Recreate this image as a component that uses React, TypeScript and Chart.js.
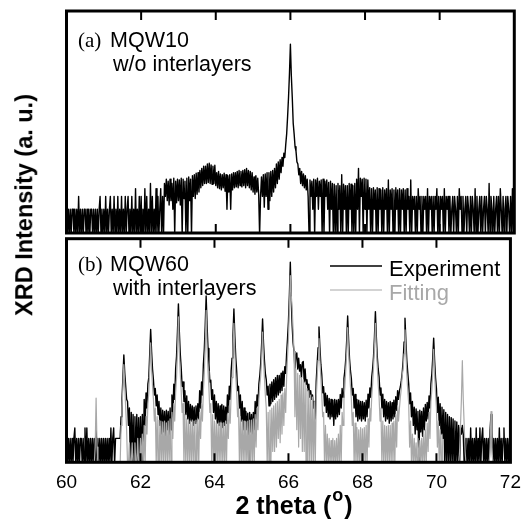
import React, { useEffect, useRef } from 'react';
import { Chart, registerables } from 'chart.js';
Chart.register(...registerables);

// Scan: 2-theta from 60 to 72 degrees, 0.025 degree step
const START = 60;
const STEP = 0.025;
const X_MIN = 60;
const X_MAX = 72;
const X_TICK_STEP = 2;
const INNER_TICKS = [62, 64, 66, 68, 70];

// log10 intensity values (0 = one count); each line holds 10 steps (0.25 degree)
// (a) MQW10 w/o interlayers
const expA = [
  0, -0.6, 0, -0.6, 0, -0.6, 0, 0, -0.6, 0,
  -0.6, 0, -0.6, 0.3, -0.6, 0, -0.6, 0, -0.6, 0,
  0, -0.6, 0, -0.6, 0, -0.6, 0, 0, -0.6, 0,
  -0.6, 0, -0.6, 0, -0.6, 0, 0.3, -0.6, 0, -0.6,
  0, -0.6, 0.3, -0.6, 0, -0.6, 0, 0.3, -0.6, 0,
  -0.6, 0.3, -0.6, 0, -0.6, 0.3, -0.6, 0, -0.6, 0.3,
  -0.6, 0, -0.6, 0.3, -0.6, 0, 0.3, -0.6, 0, -0.6,
  0.3, -0.6, 0, -0.6, 0.48, -0.6, 0, -0.6, 0.3, -0.6,
  0.3, -0.6, 0, -0.6, 0.48, -0.6, 0.3, -0.6, 0, -0.6,
  0.6, -0.6, 0.3, -0.6, 0, -0.6, 0.48, -0.6, 0.3, -0.6,
  0, 0.48, -0.6, 0.3, -0.6, 0.6, 0.3, 0.7, 0.2, 0.65,
  0.1, 0.7, 0.2, 0.6, 0.0, 0.72, -0.6, 0.65, 0.15, 0.7,
  0.2, 0.68, 0.1, 0.72, -0.6, 0.7, 0.25, 0.65, -0.6, 0.72,
  -0.6, 0.75, 0.2, 0.7, -0.6, 0.78, 0.3, 0.8, 0.25, 0.84,
  0.35, 0.85, 0.4, 0.9, 0.5, 0.95, 0.55, 1.0, 0.6, 1.0,
  0.6, 1.05, 0.62, 1.07, 0.6, 1.03, 0.58, 1.0, 0.6, 1.02,
  0.55, 0.85, 0.5, 0.88, 0.48, 0.82, 0.45, 0.8, 0.5, 0.84,
  0.42, 0.8, 0.0, 0.78, 0.4, 0.8, 0.0, 0.82, 0.45, 0.85,
  0.5, 0.85, 0.52, 0.88, 0.5, 0.9, 0.55, 0.88, 0.52, 0.9,
  0.55, 0.92, 0.5, 0.95, 0.55, 0.9, 0.5, 0.88, 0.45, 0.85,
  0.4, 0.75, 0.35, 0.78, 0.4, 0.72, 0.35, -0.6, 0.3, 0.75,
  0.3, 0.8, 0.05, 0.82, 0.3, 0.85, 0.0, 0.85, 0.2, 0.88,
  0.3, 0.9, 0.4, 0.95, 0.5, 1.05, 0.6, 1.1, 0.7, 1.15,
  0.85, 1.2, 1.0, 1.3, 1.2, 1.5, 1.75, 2.15, 2.6, 3.15,
  3.83, 3.1, 2.6, 2.0, 1.75, 1.45, 1.35, 1.1, 1.05, 0.8,
  0.95, 0.6, 0.88, 0.55, 0.82, 0.5, 0.78, 0.45, 0.7, 0.3,
  -0.6, 0.68, 0.3, 0.65, 0.0, 0.7, -0.6, 0.68, 0.3, 0.72,
  0.0, 0.65, 0.3, 0.68, -0.6, 0.7, -0.6, 0.65, 0.3, 0.68,
  0.0, 0.62, -0.6, 0.65, 0.0, 0.6, -0.6, 0.58, -0.6, 0.55,
  -0.6, 0.6, 0.0, 0.55, -0.6, 0.8, -0.6, 0.58, 0.0, 0.55,
  -0.6, 0.55, -0.6, 0.6, 0.0, 0.58, -0.6, 0.55, -0.6, 0.6,
  -0.6, 0.7, 0.0, 0.95, -0.6, 0.72, 0.3, 0.7, -0.6, 0.72,
  0.0, 0.7, -0.6, 0.68, 0.0, 0.5, -0.6, 0.48, -0.6, 0.5,
  0.0, 0.45, -0.6, 0.5, -0.6, 0.48, 0.0, 0.45, -0.6, 0.5,
  -0.6, 0.45, 0.0, 0.48, -0.6, 0.68, -0.6, 0.45, 0.0, 0.48,
  -0.6, 0.45, -0.6, 0.5, 0.0, 0.45, -0.6, 0.48, -0.6, 0.45,
  0.0, 0.48, -0.6, 0.45, -0.6, 0.48, 0.0, 0.3, -0.6, 0.68,
  -0.6, 0.3, 0.0, 0.3, -0.6, 0.3, -0.6, 0.48, 0.0, 0.3,
  -0.6, 0.3, -0.6, 0.3, 0.0, 0.3, -0.6, 0.48, -0.6, 0.3,
  0.0, 0.3, -0.6, 0.3, -0.6, 0.3, 0.0, 0.48, -0.6, 0.3,
  -0.6, 0.3, 0.0, 0.3, -0.6, 0.48, -0.6, 0.3, 0.0, 0.3,
  -0.6, 0.3, -0.6, 0.0, 0.3, -0.6, 0.3, 0.0, -0.6, 0.3,
  -0.6, 0.48, 0.0, 0.3, -0.6, 0.3, -0.6, 0.0, 0.3, -0.6,
  0.3, 0.0, -0.6, 0.3, -0.6, 0.3, 0.0, -0.6, 0.48, -0.6,
  0.3, -0.6, 0.0, 0.3, -0.6, 0.3, -0.6, 0.0, 0.3, -0.6,
  0.3, 0.0, -0.6, 0.6, -0.6, 0.3, 0.0, -0.6, 0.3, -0.6,
  0.0, 0.3, -0.6, 0.3, -0.6, 0.48, 0.0, -0.6, 0.3, -0.6,
  0.0, 0.3, -0.6, 0.3, 0.0, -0.6, 0.3, -0.6, 0.48, -0.6,
  0,
];

// (b) MQW60 with interlayers: experiment
const expB = [
  0, -0.6, 0, -0.6, 0, -0.6, 0, -0.6, 0, 0.24,
  -0.6, 0, -0.6, 0, -0.6, 0, 0, -0.6, 0, -0.6,
  0.24, -0.6, 0.24, -0.6, 0, -0.6, 0, -0.6, 0, -0.6,
  0, -0.6, 0.3, -0.6, 0, -0.6, 0, -0.6, 0, -0.6,
  0, -0.6, 0, -0.6, 0, -0.6, 0, -0.6, 0.24, -0.6,
  0, 0.24, -0.6, 0, 0, 0, 0, 0, 0, 0.5,
  0.9, 1.4, 1.92, 1.5, 1.2, 0.9, 0.85, 0.3, 0.7, -0.6,
  0.6, -0.6, 0.55, -0.6, 0.5, -0.6, 0.55, -0.6, 0.48, -0.6,
  0.5, -0.6, 0.55, -0.6, 0.9, 0.3, 1.05, 0.7, 1.25, 1.4,
  1.95, 2.51, 2.0, 1.6, 1.35, 1.0, 1.15, 0.75, 1.0, 0.55,
  0.85, 0.3, 0.7, 0.1, 0.65, 0.15, 0.62, 0.05, 0.65, 0.2,
  0.62, -0.1, 0.7, 0.2, 1.0, 0.5, 1.25, 0.9, 1.6, 1.9,
  2.46, 3.1, 2.46, 1.95, 1.63, 1.2, 1.3, 0.85, 1.1, 0.55,
  0.98, 0.45, 0.85, 0.35, 0.78, 0.4, 0.75, 0.3, 0.72, 0.35,
  0.75, 0.4, 0.8, 0.45, 1.1, 0.7, 1.3, 1.0, 1.7, 2.05,
  2.6, 3.28, 2.6, 2.07, 1.72, 1.3, 1.34, 0.9, 1.12, 0.6,
  1.0, 0.45, 0.85, 0.35, 0.8, 0.3, 0.75, 0.35, 0.78, 0.25,
  0.75, 0.3, 0.72, 0.35, 1.0, 0.6, 1.2, 0.9, 1.55, 1.85,
  2.36, 2.98, 2.36, 1.87, 1.55, 1.1, 1.2, 0.7, 1.0, 0.4,
  0.85, 0.2, 0.7, 0.1, 0.62, 0.2, 0.58, -0.6, 0.6, 0.15,
  0.55, 0.1, 0.6, 0.2, 0.85, 0.45, 1.0, 0.75, 1.25, 1.45,
  1.73, 2.18, 2.75, 2.2, 1.8, 1.5, 1.35, 1.0, 1.2, 0.75,
  1.25, 0.8, 1.3, 0.85, 1.35, 0.9, 1.4, 0.95, 1.45, 1.0,
  1.45, 1.05, 1.5, 1.1, 1.55, 1.2, 1.65, 1.5, 1.95, 2.3,
  2.7, 3.3, 4.06, 3.2, 2.6, 2.2, 2.0, 1.6, 1.9, 1.97,
  1.6, 1.85, 1.55, 1.7, 1.4, 1.75, 1.77, 1.3, 1.6, 1.25,
  1.35, 1.1, 1.25, 0.95, 1.1, 0.9, 1.0, 0.7, 0.85, 0.45,
  1.31, 1.71, 2.09, 2.57, 2.09, 1.71, 1.47, 1.05, 1.19, 0.75,
  1.04, 0.6, 0.99, 0.5, 0.92, 0.45, 0.9, 0.5, 0.88, 0.3,
  0.9, 0.45, 0.88, 0.5, 0.9, 0.55, 1.01, 0.7, 1.15, 0.95,
  1.38, 1.56, 1.84, 2.27, 2.82, 2.27, 1.84, 1.56, 1.38, 1.0,
  1.15, 0.7, 1.01, 0.5, 0.9, 0.4, 0.88, 0.45, 0.85, 0.4,
  0.85, 0.45, 0.82, 0.4, 0.88, 0.5, 1.02, 0.7, 1.16, 0.95,
  1.41, 1.6, 1.89, 2.34, 2.92, 2.34, 1.89, 1.6, 1.41, 1.0,
  1.16, 0.7, 1.02, 0.5, 0.9, 0.4, 0.85, 0.45, 0.82, 0.35,
  0.85, 0.4, 0.82, 0.45, 0.88, 0.5, 0.96, 0.65, 1.1, 0.9,
  1.1, 1.19, 1.33, 1.51, 1.79, 2.22, 2.77, 2.22, 1.79, 1.51,
  1.25, 0.8, 1.05, 0.5, 0.85, 0.3, 0.72, 0.1, 0.68, 0.2,
  0.62, -0.6, 0.65, 0.15, 0.62, 0.05, 0.7, 0.2, 0.78, 0.4,
  0.83, 0.45, 0.98, 0.7, 1.25, 1.48, 1.85, 2.31, 1.8, 1.4,
  1.15, 0.6, 0.95, 0.3, 0.8, 0.1, 0.72, 0.0, 0.66, -0.6,
  0.6, -0.6, 0.55, -0.6, 0.5, -0.6, 0.48, -0.6, 0.45, -0.6,
  0.4, -0.6, 0.38, -0.6, 0.3, -0.6, 0.25, 0.1, 0.3, 0.1,
  -0.6, 0, -0.6, 0, -0.6, 0, -0.6, 0.24, -0.6, 0,
  -0.6, 0, -0.6, 0.24, -0.6, 0, -0.6, 0.24, -0.6, 0,
  0.24, -0.6, 0, -0.6, 0, -0.6, 0, -0.6, 0.2, 0.55,
  0.2, -0.6, 0, -0.6, 0, -0.6, 0, -0.6, 0.24, -0.6,
  0, -0.6, 0, 0.24, -0.6, 0, -0.6, 0, -0.6, 0,
  -0.6,
];

// (b) MQW60 with interlayers: fitting
const fitB = [
  -0.6, -0.6, -0.6, -0.6, -0.6, -0.6, -0.6, -0.6, -0.6, -0.6,
  -0.6, -0.6, -0.6, -0.6, -0.6, -0.6, -0.6, -0.6, -0.6, -0.6,
  -0.6, -0.6, -0.6, -0.6, -0.6, -0.6, -0.6, -0.6, -0.6, -0.6,
  -0.6, -0.2, 0.93, -0.2, -0.6, -0.6, -0.6, -0.6, -0.6, -0.6,
  -0.6, -0.6, -0.6, -0.6, -0.6, -0.6, -0.6, -0.6, -0.6, -0.6,
  -0.6, -0.6, -0.6, -0.6, -0.6, -0.6, -0.6, -0.6, -0.6, 0.3,
  0.7, 1.2, 1.7, 1.2, 0.7, 0.2, -0.6, -0.6, -0.1, -0.6,
  -0.6, -0.1, -0.6, -0.6, -0.1, -0.6, -0.6, 0.0, -0.6, -0.6,
  0.0, -0.6, 0.1, -0.6, 0.3, -0.6, 0.5, 0.1, 0.8, 1.05,
  1.6, 2.2, 1.6, 1.2, 0.9, 0.4, 0.7, -0.6, 0.5, -0.6,
  0.42, -0.6, 0.4, -0.6, 0.38, -0.6, 0.4, -0.6, 0.36, -0.6,
  0.4, -0.6, 0.45, -0.6, 0.6, 0.0, 0.8, 0.4, 1.05, 1.4,
  2.0, 2.8, 2.0, 1.5, 1.1, 0.6, 0.8, -0.6, 0.55, -0.6,
  0.45, -0.6, 0.42, -0.6, 0.4, -0.6, 0.42, -0.6, 0.4, -0.6,
  0.42, -0.6, 0.45, -0.6, 0.6, 0.0, 0.8, 0.4, 1.1, 1.5,
  2.1, 2.95, 2.1, 1.55, 1.15, 0.6, 0.8, -0.6, 0.55, -0.6,
  0.4, -0.6, 0.36, -0.6, 0.35, -0.6, 0.36, -0.6, 0.35, -0.6,
  0.36, -0.6, 0.4, -0.6, 0.55, 0.0, 0.75, 0.35, 1.0, 1.4,
  2.0, 2.65, 2.0, 1.45, 1.05, 0.5, 0.7, -0.6, 0.5, -0.6,
  0.42, -0.6, 0.4, -0.6, 0.38, -0.6, 0.4, -0.6, 0.42, -0.6,
  0.42, -0.6, 0.45, -0.6, 0.55, -0.2, 0.7, 0.2, 0.9, 1.2,
  1.45, 1.85, 2.45, 1.85, 1.4, 1.0, 0.7, -0.6, 0.6, -0.6,
  0.65, -0.6, 0.7, -0.3, 0.75, -0.3, 0.8, -0.2, 0.85, 0.0,
  0.9, -0.1, 1.0, 0.1, 1.05, 0.3, 1.15, 0.6, 1.4, 1.9,
  2.3, 3.0, 3.75, 3.3, 3.0, 2.5, 2.0, 0.5, 1.6, 0.2,
  1.5, -0.2, 1.45, 0.0, 1.4, -0.3, 1.35, -0.3, 1.3, -0.6,
  1.15, -0.6, 1.1, -0.6, 1.0, -0.6, 0.95, -0.6, 0.85, -0.6,
  0.9, 1.4, 1.8, 2.3, 1.8, 1.4, 1.0, 0.5, 0.6, -0.6,
  0.3, -0.6, 0.1, -0.6, 0.0, -0.6, -0.05, -0.6, 0.0, -0.6,
  -0.05, -0.6, 0.0, -0.6, 0.1, -0.6, 0.3, -0.6, 0.6, 0.3,
  0.9, 1.2, 1.6, 2.0, 2.55, 2.0, 1.6, 1.2, 0.9, 0.3,
  0.6, -0.6, 0.35, -0.6, 0.25, -0.6, 0.2, -0.6, 0.25, -0.6,
  0.22, -0.6, 0.25, -0.6, 0.3, -0.6, 0.45, -0.2, 0.7, 0.4,
  0.95, 1.25, 1.65, 2.1, 2.65, 2.1, 1.65, 1.25, 0.95, 0.4,
  0.7, -0.6, 0.4, -0.6, 0.3, -0.6, 0.28, -0.6, 0.3, -0.6,
  0.3, -0.6, 0.35, -0.6, 0.4, -0.6, 0.55, -0.2, 0.75, 0.4,
  0.7, 0.95, 1.15, 1.45, 1.6, 1.95, 2.5, 1.95, 1.45, 1.1,
  0.8, -0.2, 0.4, -0.6, 0.1, -0.6, 0.0, -0.6, -0.1, -0.6,
  0.0, -0.6, -0.05, -0.6, 0.0, -0.6, 0.1, -0.6, 0.2, -0.6,
  0.35, -0.3, 0.6, 0.0, 0.85, 1.1, 1.5, 2.05, 1.5, 1.05,
  0.7, -0.2, 0.4, -0.6, 0.2, -0.6, 0.1, -0.6, -0.6, -0.6,
  -0.6, -0.6, -0.6, -0.6, -0.6, -0.6, -0.6, -0.6, -0.6, -0.6,
  -0.6, -0.6, -0.6, -0.6, -0.6, -0.3, 0.3, 0.9, 1.79, 0.9,
  0.3, -0.3, -0.6, -0.6, -0.6, -0.6, -0.6, -0.6, -0.6, -0.6,
  -0.6, -0.6, -0.6, -0.6, -0.6, -0.6, -0.6, -0.6, -0.6, -0.6,
  -0.6, -0.6, -0.6, -0.6, -0.6, -0.6, -0.6, -0.6, -0.2, 0.62,
  -0.2, -0.6, -0.6, -0.6, -0.6, -0.6, -0.6, -0.6, -0.6, -0.6,
  -0.6, -0.6, -0.6, -0.6, -0.6, -0.6, -0.6, -0.6, -0.6, -0.6,
  -0.6,
];

const Y_MIN = -0.55;
const Y_MAX = 4.6;

const PANEL_A_TEXT = { tag: '(a)', name: 'MQW10', note: 'w/o interlayers' };
const PANEL_B_TEXT = { tag: '(b)', name: 'MQW60', note: 'with interlayers' };
const SERIES_LABELS = ['Experiment', 'Fitting'];
const Y_TITLE = 'XRD Intensity (a. u.)';
const X_TITLE = '2 theta (';
const X_TITLE_SUP = 'o';
const X_TITLE_END = ')';

const BLACK = '#000000';
const GRAY = '#a8a8a8';
const SANS = "'Liberation Sans', Arial, Helvetica, sans-serif";
const SERIF = "'Liberation Serif', 'Times New Roman', serif";

const toPoints = (vals: number[]) =>
  vals.map((y, i) => ({ x: Math.round((START + i * STEP) * 1000) / 1000, y }));

const framePlugin = {
  id: 'frame',
  afterDraw(chart: any) {
    const { ctx, chartArea, scales } = chart;
    const { left, right, top, bottom } = chartArea;
    ctx.save();
    ctx.strokeStyle = BLACK;
    ctx.lineWidth = 2;
    ctx.beginPath();
    for (const v of INNER_TICKS) {
      const px = scales.x.getPixelForValue(v);
      ctx.moveTo(px, top);
      ctx.lineTo(px, top + 9);
      ctx.moveTo(px, bottom);
      ctx.lineTo(px, bottom - 9);
    }
    ctx.stroke();
    ctx.lineWidth = 3;
    ctx.strokeRect(left, top, right - left, bottom - top);
    ctx.restore();
  },
};

const makeNotePlugin = (text: { tag: string; name: string; note: string }, dy1: number, dy2: number) => ({
  id: 'notes',
  afterDraw(chart: any) {
    const { ctx, chartArea } = chart;
    const { left, top } = chartArea;
    ctx.save();
    ctx.fillStyle = BLACK;
    ctx.textBaseline = 'alphabetic';
    ctx.textAlign = 'left';
    ctx.font = `21px ${SERIF}`;
    ctx.fillText(text.tag, left + 11.5, top + dy1);
    ctx.font = `21.5px ${SANS}`;
    ctx.fillText(text.name, left + 43.5, top + dy1);
    ctx.fillText(text.note, left + 46.5, top + dy2);
    ctx.restore();
  },
});

const legendPlugin = {
  id: 'customLegend',
  afterDraw(chart: any) {
    const { ctx, chartArea } = chart;
    const { left, top } = chartArea;
    const rows = [
      { dy: 27.3, ty: 37.3, w: 1.5 },
      { dy: 51.3, ty: 61, w: 1.2 },
    ];
    ctx.save();
    chart.data.datasets.forEach((ds: any, i: number) => {
      const r = rows[i];
      ctx.strokeStyle = ds.borderColor;
      ctx.lineWidth = r.w;
      ctx.beginPath();
      ctx.moveTo(left + 263.5, top + r.dy);
      ctx.lineTo(left + 315.5, top + r.dy);
      ctx.stroke();
      ctx.fillStyle = ds.borderColor;
      ctx.font = `22px ${SANS}`;
      ctx.textAlign = 'left';
      ctx.textBaseline = 'alphabetic';
      ctx.fillText(ds.label, left + 322.5, top + r.ty);
    });
    ctx.restore();
  },
};

const baseLine = {
  pointRadius: 0,
  tension: 0,
  borderJoinStyle: 'round' as const,
};

function makeConfigA(): any {
  return {
    type: 'line',
    data: {
      datasets: [
        {
          ...baseLine,
          label: PANEL_A_TEXT.name,
          data: toPoints(expA),
          borderColor: BLACK,
          borderWidth: 1.4,
        },
      ],
    },
    options: {
      animation: false,
      responsive: false,
      events: [],
      layout: { padding: { left: 66.5, right: 15.7, top: 11, bottom: 3 } },
      plugins: { legend: { display: false }, tooltip: { enabled: false } },
      scales: {
        x: { type: 'linear', min: X_MIN, max: X_MAX, display: false },
        y: { type: 'linear', min: Y_MIN, max: Y_MAX, display: false },
      },
    },
    plugins: [framePlugin, makeNotePlugin(PANEL_A_TEXT, 35.5, 59.5)],
  };
}

function makeConfigB(): any {
  return {
    type: 'line',
    data: {
      datasets: [
        {
          ...baseLine,
          label: SERIES_LABELS[0],
          data: toPoints(expB),
          borderColor: BLACK,
          borderWidth: 1.4,
          order: 1,
        },
        {
          ...baseLine,
          label: SERIES_LABELS[1],
          data: toPoints(fitB),
          borderColor: GRAY,
          borderWidth: 1.2,
          order: 0,
        },
      ],
    },
    options: {
      animation: false,
      responsive: false,
      events: [],
      layout: { padding: { left: 66.5, right: 15.7, top: 2.7, bottom: 0 } },
      plugins: { legend: { display: false }, tooltip: { enabled: false } },
      scales: {
        x: {
          type: 'linear',
          min: X_MIN,
          max: X_MAX,
          grid: { display: false, drawTicks: false },
          border: { display: false },
          ticks: {
            stepSize: X_TICK_STEP,
            autoSkip: false,
            maxRotation: 0,
            color: BLACK,
            padding: 9,
            font: { family: SANS, size: 19 },
          },
          afterFit: (scale: any) => {
            scale.height = 59.7;
          },
        },
        y: { type: 'linear', min: Y_MIN, max: Y_MAX, display: false },
      },
    },
    plugins: [framePlugin, makeNotePlugin(PANEL_B_TEXT, 32.5, 56.5), legendPlugin],
  };
}

export default function App() {
  const refA = useRef<HTMLCanvasElement>(null);
  const refB = useRef<HTMLCanvasElement>(null);

  useEffect(() => {
    const a = new Chart(refA.current as HTMLCanvasElement, makeConfigA());
    const b = new Chart(refB.current as HTMLCanvasElement, makeConfigB());
    return () => {
      a.destroy();
      b.destroy();
    };
  }, []);

  return (
    <div
      style={{
        position: 'absolute',
        left: 0,
        top: 0,
        width: 530,
        height: 522,
        background: '#ffffff',
        overflow: 'hidden',
      }}
    >
      <canvas ref={refA} width={530} height={236} style={{ position: 'absolute', left: 0, top: 0 }} />
      <canvas ref={refB} width={530} height={286} style={{ position: 'absolute', left: 0, top: 236 }} />
      <div
        style={{
          position: 'absolute',
          left: 25,
          top: 205,
          transform: 'translate(-50%, -50%) rotate(-90deg)',
          font: `bold 23.5px ${SANS}`,
          lineHeight: 1,
          whiteSpace: 'nowrap',
          color: BLACK,
        }}
      >
        {Y_TITLE}
      </div>
      <div
        style={{
          position: 'absolute',
          left: 294,
          top: 505,
          transform: 'translate(-50%, -50%)',
          font: `bold 25px ${SANS}`,
          lineHeight: 1,
          whiteSpace: 'nowrap',
          color: BLACK,
        }}
      >
        {X_TITLE}
        <span style={{ fontSize: '0.72em', position: 'relative', top: '-0.75em', margin: '0 1px' }}>
          {X_TITLE_SUP}
        </span>
        {X_TITLE_END}
      </div>
    </div>
  );
}
